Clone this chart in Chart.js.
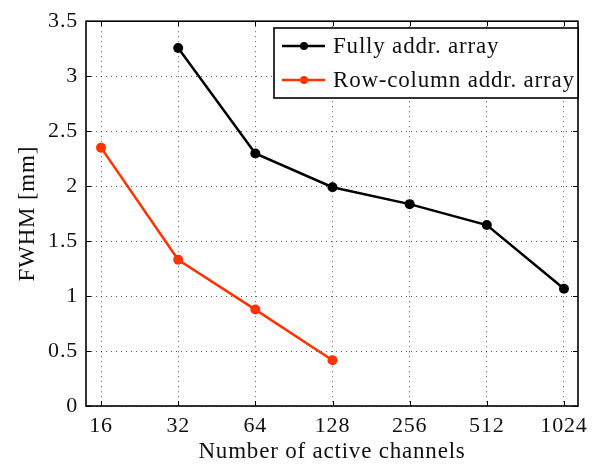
<!DOCTYPE html>
<html>
<head>
<meta charset="utf-8">
<script src="https://cdn.jsdelivr.net/npm/chart.js@4/dist/chart.umd.min.js"></script>
<style>
  html, body { margin: 0; padding: 0; background: #fff; }
  #wrap { width: 597px; height: 468px; }
</style>
</head>
<body>
<div id="wrap"><canvas id="fwhmChart" width="597" height="468"></canvas></div>
<script>
const canales = [16, 32, 64, 128, 256, 512, 1024];
const fullyAddr = [null, 3.256, 2.297, 1.99, 1.836, 1.646, 1.067];
const rowColumn = [2.35, 1.33, 0.877, 0.416, null, null, null];
const yTicks = [0, 0.5, 1, 1.5, 2, 2.5, 3, 3.5];

const fuente = 'Liberation Serif, Times New Roman, serif';
const colorTexto = '#111111';

function puntos(serie) {
  return canales.map((c, i) => ({ x: c, y: serie[i] })).filter(p => p.y !== null);
}

// Espaciado de letras para acercarse al ancho de la fuente original
const espaciadoPlugin = {
  id: 'espaciado',
  beforeDraw(chart) { chart.ctx.letterSpacing = '0.8px'; }
};

// Marco con marcas hacia dentro + leyenda en recuadro
const marcoPlugin = {
  id: 'marco',
  afterDatasetsDraw(chart) {
    const { ctx, chartArea: a, scales } = chart;
    ctx.save();
    ctx.strokeStyle = '#000';
    ctx.lineWidth = 1;
    const len = 5;
    ctx.beginPath();
    canales.forEach(c => {
      const x = Math.round(scales.x.getPixelForValue(c)) + 0.5;
      ctx.moveTo(x, a.bottom); ctx.lineTo(x, a.bottom - len);
      ctx.moveTo(x, a.top); ctx.lineTo(x, a.top + len);
    });
    yTicks.forEach(v => {
      const y = Math.round(scales.y.getPixelForValue(v)) + 0.5;
      ctx.moveTo(a.left, y); ctx.lineTo(a.left + len, y);
      ctx.moveTo(a.right, y); ctx.lineTo(a.right - len, y);
    });
    ctx.stroke();
    ctx.lineWidth = 1.6;
    ctx.strokeRect(a.left, a.top, a.right - a.left, a.bottom - a.top);

    // leyenda
    const lx = 274, ly = 28, lw = a.right - 274, lh = 70;
    ctx.fillStyle = '#fff';
    ctx.fillRect(lx, ly, lw, lh);
    ctx.lineWidth = 1.6;
    ctx.strokeRect(lx, ly, lw, lh);
    ctx.font = '23px ' + fuente;
    ctx.letterSpacing = '0.8px';
    ctx.textBaseline = 'middle';
    chart.data.datasets.forEach((ds, i) => {
      const y = ly + 18 + i * 34;
      ctx.strokeStyle = ds.borderColor;
      ctx.lineWidth = 2.5;
      ctx.beginPath();
      ctx.moveTo(lx + 8, y); ctx.lineTo(lx + 51, y);
      ctx.stroke();
      ctx.fillStyle = ds.borderColor;
      ctx.beginPath();
      ctx.arc(lx + 30, y, 4, 0, Math.PI * 2);
      ctx.fill();
      ctx.fillStyle = colorTexto;
      ctx.fillText(ds.label, lx + 59, y + 1);
    });
    ctx.restore();
  }
};

const ctx = document.getElementById('fwhmChart').getContext('2d');
const grafico = new Chart(ctx, {
  type: 'line',
  data: {
    datasets: [{
      label: 'Fully addr. array',
      data: puntos(fullyAddr),
      borderColor: '#000000',
      backgroundColor: '#000000',
      borderWidth: 2.5,
      pointRadius: 5,
      pointBorderWidth: 0,
      tension: 0
    }, {
      label: 'Row-column addr. array',
      data: puntos(rowColumn),
      borderColor: '#ff3300',
      backgroundColor: '#ff3300',
      borderWidth: 2.5,
      pointRadius: 5,
      pointBorderWidth: 0,
      tension: 0
    }]
  },
  options: {
    responsive: false,
    animation: false,
    layout: { padding: { left: 0, top: 19, right: 19, bottom: 0 } },
    scales: {
      x: {
        type: 'logarithmic',
        min: 16 * Math.pow(2, -15 / 77),
        max: 1024 * Math.pow(2, 14 / 77),
        afterBuildTicks: s => { s.ticks = canales.map(v => ({ value: v })); },
        afterFit: s => { s.height = 62; },
        ticks: {
          callback: v => String(v),
          color: colorTexto,
          font: { family: fuente, size: 22 },
          padding: 7,
          maxRotation: 0,
          autoSkip: false
        },
        grid: { color: 'rgba(0,0,0,0.65)', lineWidth: 1, drawTicks: false },
        border: { display: false, dash: [1, 4] },
        title: {
          display: true,
          text: 'Number of active channels',
          color: colorTexto,
          font: { family: fuente, size: 23 },
          padding: { top: 0, bottom: 2 }
        }
      },
      y: {
        min: 0,
        max: 3.5,
        afterBuildTicks: s => { s.ticks = yTicks.map(v => ({ value: v })); },
        afterFit: s => { s.width = 86; },
        ticks: {
          callback: v => String(v),
          color: colorTexto,
          font: { family: fuente, size: 22 },
          padding: 8
        },
        grid: { color: 'rgba(0,0,0,0.65)', lineWidth: 1, drawTicks: false },
        border: { display: false, dash: [1, 4] },
        title: {
          display: true,
          text: 'FWHM [mm]',
          color: colorTexto,
          font: { family: fuente, size: 23 },
          padding: { top: 14, bottom: 0 }
        }
      }
    },
    plugins: {
      legend: { display: false },
      tooltip: { enabled: false }
    }
  },
  plugins: [espaciadoPlugin, marcoPlugin]
});
</script>
</body>
</html>
